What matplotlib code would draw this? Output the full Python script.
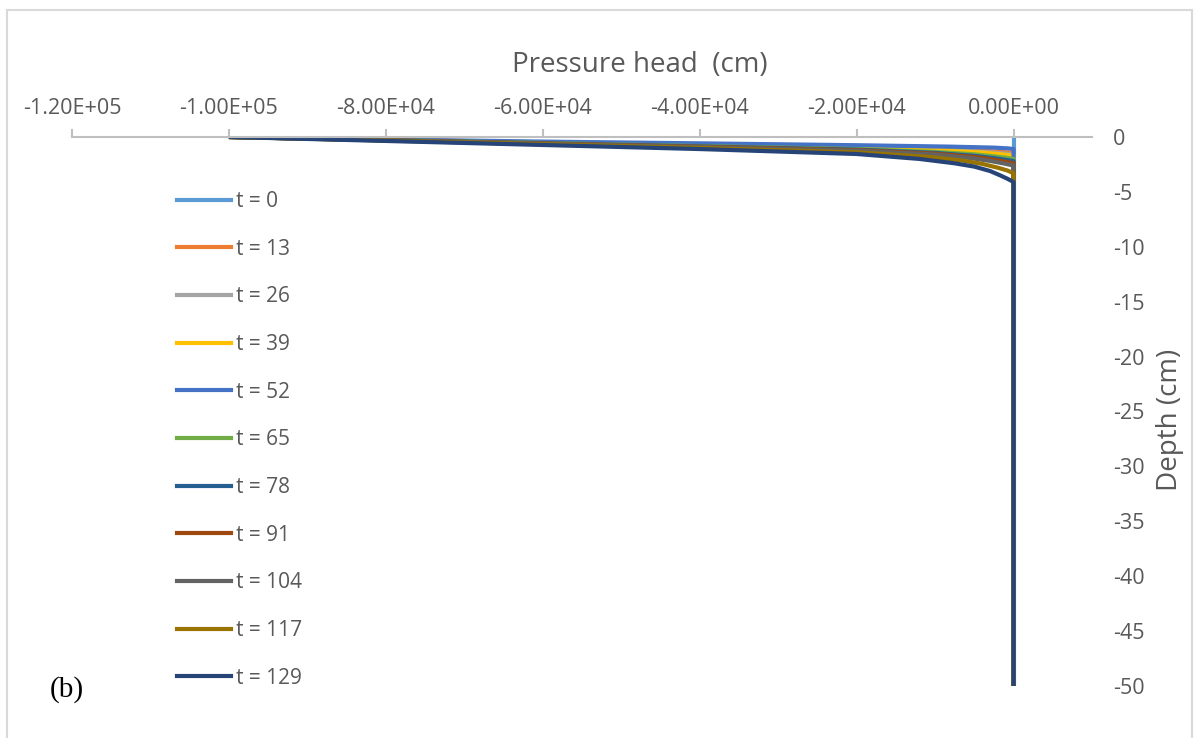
import matplotlib
matplotlib.use("Agg")
import matplotlib.pyplot as plt
from matplotlib.lines import Line2D
from matplotlib.ticker import FuncFormatter

# series: depth (cm) and pressure head (cm) per time step
labels = ["t = 0", "t = 13", "t = 26", "t = 39", "t = 52", "t = 65",
          "t = 78", "t = 91", "t = 104", "t = 117", "t = 129"]
colors = ["#5B9BD5", "#ED7D31", "#A5A5A5", "#FFC000", "#4472C4", "#70AD47",
          "#255E91", "#9E480E", "#636363", "#997300", "#264478"]

depth_t0 = [0, -50]
head_t0 = [0, 0]

depth_t13 = [0, -0.28, -0.48, -0.72, -0.95, -1.12, -1.25, -1.35, -1.42, -1.45, -50]
head_t13 = [-100000, -78000, -60000, -40000, -20000, -9000, -4000, -1800, -600, 0, 0]

depth_t26 = [0, -0.29, -0.5, -0.75, -1.0, -1.2, -1.35, -1.47, -1.55, -1.6, -50]
head_t26 = [-100000, -78000, -60000, -40000, -20000, -9000, -4000, -1900, -700, 0, 0]

depth_t39 = [0, -0.3, -0.52, -0.78, -1.03, -1.25, -1.42, -1.55, -1.64, -1.7, -50]
head_t39 = [-100000, -78000, -60000, -40000, -20000, -9000, -4000, -2000, -800, 0, 0]

depth_t52 = [0, -0.25, -0.42, -0.58, -0.75, -0.88, -0.97, -1.04, -1.1, -50]
head_t52 = [-100000, -78000, -60000, -40000, -20000, -8000, -2500, -700, 0, 0]

depth_t65 = [0, -0.31, -0.55, -0.83, -1.1, -1.36, -1.58, -1.76, -1.9, -2.0, -50]
head_t65 = [-100000, -78000, -60000, -40000, -20000, -10000, -5000, -2500, -900, 0, 0]

depth_t78 = [0, -0.32, -0.57, -0.86, -1.15, -1.45, -1.72, -1.93, -2.08, -2.2, -50]
head_t78 = [-100000, -78000, -60000, -40000, -20000, -10000, -5000, -2500, -1000, 0, 0]

depth_t91 = [0, -0.33, -0.59, -0.89, -1.2, -1.52, -1.82, -2.07, -2.26, -2.4, -50]
head_t91 = [-100000, -78000, -60000, -40000, -20000, -10000, -5000, -2500, -1000, 0, 0]

depth_t104 = [0, -0.34, -0.61, -0.92, -1.25, -1.6, -1.92, -2.18, -2.42, -2.6, -50]
head_t104 = [-100000, -78000, -60000, -40000, -20000, -10000, -5500, -3000, -1200, 0, 0]

depth_t117 = [0, -0.36, -0.66, -1.0, -1.4, -1.8, -2.15, -2.45, -2.8, -3.05, -3.3, -50]
head_t117 = [-100000, -78000, -60000, -40000, -20000, -11000, -6500, -4000, -2000, -800, 0, 0]

depth_t129 = [0, -0.4, -0.73, -1.1, -1.55, -2.0, -2.4, -2.7, -3.1, -3.5, -3.8, -4.1, -50]
head_t129 = [-100000, -78000, -60000, -40000, -20000, -12000, -7500, -5000, -3000, -1700, -800, 0, 0]

depths = [depth_t0, depth_t13, depth_t26, depth_t39, depth_t52, depth_t65,
          depth_t78, depth_t91, depth_t104, depth_t117, depth_t129]
heads = [head_t0, head_t13, head_t26, head_t39, head_t52, head_t65,
         head_t78, head_t91, head_t104, head_t117, head_t129]

x_ticks = [-120000, -100000, -80000, -60000, -40000, -20000, 0]
y_ticks = [0, -5, -10, -15, -20, -25, -30, -35, -40, -45, -50]

text_color = "#595959"
axis_color = "#BFBFBF"
plt.rcParams["font.family"] = ["Open Sans", "DejaVu Sans"]
plt.rcParams["axes.unicode_minus"] = False

fig = plt.figure(figsize=(11.94, 7.38), dpi=100)
ax = fig.add_axes([0.0603, 0.0705, 0.8543, 0.7439])

for d, h, c in zip(depths, heads, colors):
    ax.plot(h, d, color=c, linewidth=3, solid_capstyle="butt", solid_joinstyle="round")

ax.set_xlim(-120000, 10000)
ax.set_ylim(-50, 0)

# x axis sits on top, y labels on the right without a spine
ax.xaxis.set_ticks_position("top")
ax.set_xticks(x_ticks)
ax.xaxis.set_major_formatter(FuncFormatter(lambda v, p: f"{v:.2E}"))
ax.tick_params(axis="x", colors=axis_color, labelcolor=text_color, labelsize=15.5,
               length=6, width=1.5, pad=7)
ax.yaxis.set_ticks_position("right")
ax.set_yticks(y_ticks)
ax.tick_params(axis="y", length=0, labelcolor=text_color, labelsize=15.5, pad=15)

for side in ["bottom", "left", "right"]:
    ax.spines[side].set_visible(False)
ax.spines["top"].set_color(axis_color)
ax.spines["top"].set_linewidth(1.5)

fig.text(640 / 1194, 1 - 65 / 738, "Pressure head  (cm)", ha="center", va="center",
         fontsize=20, color=text_color)
fig.text(1170 / 1194, 1 - 420 / 738, "Depth (cm)", ha="center", va="center",
         rotation=90, fontsize=20, color=text_color)
fig.text(67 / 1194, 1 - 690 / 738, "(b)", ha="center", va="center",
         fontsize=21, family="Liberation Serif", color="black")

handles = [Line2D([], [], color=c, linewidth=3) for c in colors]
leg = fig.legend(handles, labels, loc="upper left", bbox_to_anchor=(177 / 1194, 1 - 191 / 738),
                 frameon=False, fontsize=15, labelspacing=1.28, handlelength=2.6,
                 handletextpad=0.25, borderpad=0, borderaxespad=0)
for t in leg.get_texts():
    t.set_color(text_color)

# light chart border
fig.add_artist(Line2D([7 / 1194, 7 / 1194], [0, 1 - 10 / 738], color="#D9D9D9", linewidth=1.5))
fig.add_artist(Line2D([7 / 1194, 1192 / 1194], [1 - 10 / 738, 1 - 10 / 738], color="#D9D9D9", linewidth=1.5))
fig.add_artist(Line2D([1192 / 1194, 1192 / 1194], [0, 1 - 10 / 738], color="#D9D9D9", linewidth=1.5))

fig.savefig("out.png", dpi=100)
plt.close(fig)
